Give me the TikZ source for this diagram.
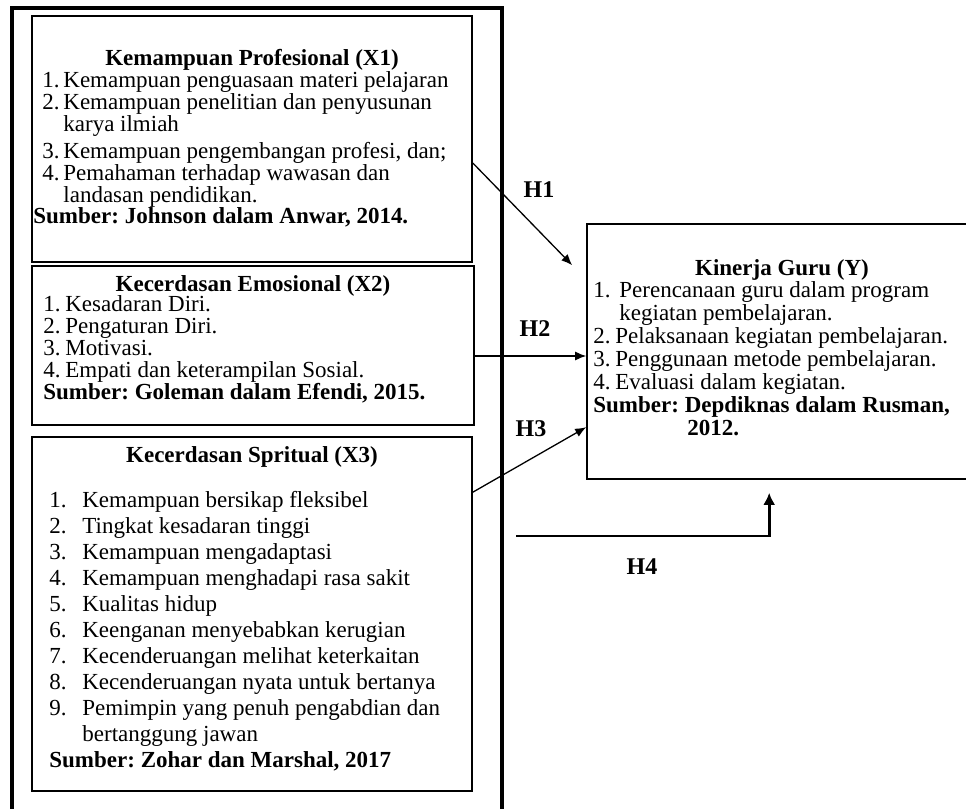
\documentclass[tikz,border=0pt]{standalone}
\usepackage{fontspec}
\setmainfont{Liberation Serif}
\usetikzlibrary{arrows.meta,calc,fit}
\frenchspacing
\newcommand{\nomor}[2]{\makebox[#1][l]{#2}}

\begin{document}
\begin{tikzpicture}[x=0.5pt,y=-0.5pt,>={Latex[length=5.5pt,width=4.5pt]},
  kotak/.style={draw,line width=0.8pt,inner sep=0pt,fit={#1}},
  judul/.style={font=\fontsize{11.5}{13}\selectfont\bfseries,inner sep=0pt,anchor=base},
  isi/.style={font=\fontsize{11.5}{#1}\selectfont,align=left,inner sep=0pt,anchor=base west},
  hipo/.style={font=\fontsize{12}{14}\selectfont\bfseries,inner sep=0pt},
  panah/.style={->,line width=0.65pt}]
  \useasboundingbox (0,0) rectangle (966,809);
  \clip (0,0) rectangle (966,809);
  \fill[white] (0,0) rectangle (966,809);
  % kotak variabel
  \node[kotak={(32,16) (472,262)}] (x1) {};
  \node[kotak={(32,266) (474,425)}] (x2) {};
  \node[kotak={(32,437) (472,791)}] (x3) {};
  \node[kotak={(587,224) (977,479)}] (kg) {};
  % bingkai luar
  \draw[line width=1.6pt] (12,830) -- (12,8) -- (502,8) -- (502,830);

  % X1 (titik acuan = baris terakhir)
  \node[judul] (x1j) at (x1.north |- 0,65) {Kemampuan Profesional (X1)};
  \node[isi=11pt] (x1d) at (42,202) {\nomor{10.5pt}{1.}Kemampuan penguasaan materi pelajaran\\
    \nomor{10.5pt}{2.}Kemampuan penelitian dan penyusunan\\
    \hspace*{10.5pt}karya ilmiah\\[2.5pt]
    \nomor{10.5pt}{3.}Kemampuan pengembangan profesi, dan;\\
    \nomor{10.5pt}{4.}Pemahaman terhadap wawasan dan\\
    \hspace*{10.5pt}landasan pendidikan.};
  \node[isi=11pt] (x1s) at (33,223) {\bfseries Sumber: Johnson dalam Anwar, 2014.};

  % X2
  \node[judul] (x2j) at (x2.north |- 0,291) {Kecerdasan Emosional (X2)};
  \node[isi=11pt] (x2d) at (43,399) {\nomor{11pt}{1.}Kesadaran Diri.\\
    \nomor{11pt}{2.}Pengaturan Diri.\\
    \nomor{11pt}{3.}Motivasi.\\
    \nomor{11pt}{4.}Empati dan keterampilan Sosial.\\
    \textbf{Sumber: Goleman dalam Efendi, 2015.}};

  % X3
  \node[judul] (x3j) at (x3.north |- 0,462) {Kecerdasan Spritual (X3)};
  \node[isi=13pt] (x3d) at (49,767) {\nomor{16.5pt}{1.}Kemampuan bersikap fleksibel\\
    \nomor{16.5pt}{2.}Tingkat kesadaran tinggi\\
    \nomor{16.5pt}{3.}Kemampuan mengadaptasi\\
    \nomor{16.5pt}{4.}Kemampuan menghadapi rasa sakit\\
    \nomor{16.5pt}{5.}Kualitas hidup\\
    \nomor{16.5pt}{6.}Keenganan menyebabkan kerugian\\
    \nomor{16.5pt}{7.}Kecenderuangan melihat keterkaitan\\
    \nomor{16.5pt}{8.}Kecenderuangan nyata untuk bertanya\\
    \nomor{16.5pt}{9.}Pemimpin yang penuh pengabdian dan\\
    \hspace*{16.5pt}bertanggung jawan\\
    \textbf{Sumber: Zohar dan Marshal, 2017}};

  % Y
  \node[judul] (kgj) at (kg.north |- 0,275) {Kinerja Guru (Y)};
  \node[isi=11.5pt] (kgd) at (593,435) {\nomor{13pt}{1.}Perencanaan guru dalam program\\
    \hspace*{13pt}kegiatan pembelajaran.\\
    \nomor{11pt}{2.}Pelaksanaan kegiatan pembelajaran.\\
    \nomor{11pt}{3.}Penggunaan metode pembelajaran.\\
    \nomor{11pt}{4.}Evaluasi dalam kegiatan.\\
    \textbf{Sumber: Depdiknas dalam Rusman,}\\
    \hspace*{47pt}\textbf{2012.}};

  % hipotesis
  \coordinate (h1) at ($(kg.north west)+(-14,42)$);
  \coordinate (h2) at ($(x2.east)+(0,10.5)$);
  \coordinate (h4a) at ($(kg.south west)+(-70,56)$);
  \coordinate (h4b) at ($(kg.south west)+(183,13)$);
  \draw[panah] ($(x1.east)+(0,24)$) -- (h1);
  \draw[panah] (h2) -- (kg.west |- h2);
  \draw[panah] ($(x3.north east)+(0,56)$) -- ($(kg.north west)+(0,204)$);
  \draw[->,line width=1.3pt,>={Latex[length=6pt,width=6pt]}] (h4a) -| (h4b);

  \node[hipo] (lh1) at (539,190) {H1};
  \node[hipo] (lh2) at (535,329) {H2};
  \node[hipo] (lh3) at (531,429) {H3};
  \node[hipo] (lh4) at (642,567) {H4};
\end{tikzpicture}
\end{document}
